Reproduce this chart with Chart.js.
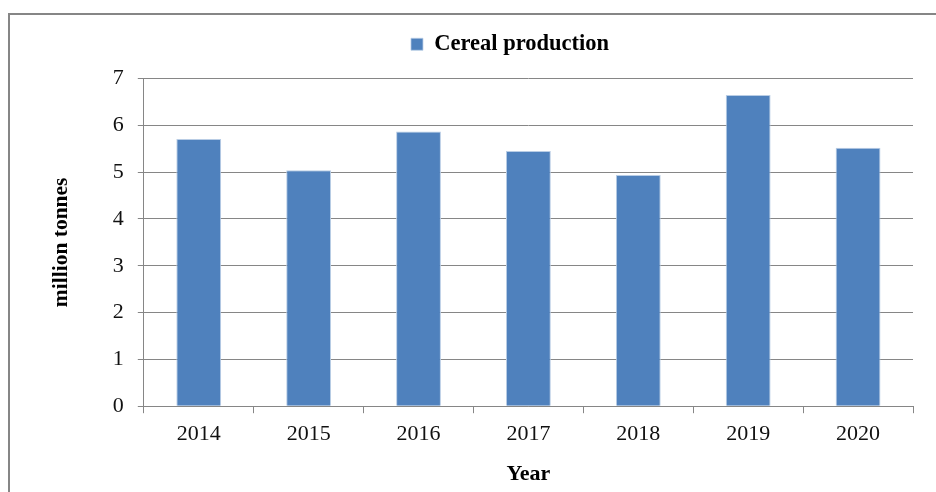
<!DOCTYPE html>
<html>
<head>
<meta charset="utf-8">
<script src="https://cdn.jsdelivr.net/npm/chart.js@4/dist/chart.umd.min.js"></script>
<style>
  html, body { margin: 0; padding: 0; background: #fff; overflow: hidden; }
  #wrap { position: relative; width: 936px; height: 492px; }
  #frame { position: absolute; left: 8px; top: 13px; width: 940px; height: 500px; border: 2px solid #868686; box-sizing: border-box; }
  canvas { position: absolute; left: 0; top: 0; }
</style>
</head>
<body>
<div id="wrap">
  <div id="frame"></div>
  <canvas id="chart" width="936" height="492"></canvas>
</div>
<script>
// Cereal production by year
const years = ['2014', '2015', '2016', '2017', '2018', '2019', '2020'];
const production = [5.71, 5.04, 5.87, 5.45, 4.94, 6.65, 5.52];
const yTicks = [0, 1, 2, 3, 4, 5, 6, 7];

const serif = '"Liberation Serif", "Times New Roman", serif';
const grey = '#868686';

// extra space under the legend, and centre it over the plot rather than the canvas
const legendGap = {
    id: 'legendGap',
    beforeInit(chart) {
        const fit = chart.legend.fit;
        chart.legend.fit = function () {
            fit.bind(chart.legend)();
            this.height += 13;
        };
    },
    afterLayout(chart) {
        chart.legend.left += 29;
        chart.legend.right += 29;
    },
};

new Chart(document.getElementById('chart'), {
    type: 'bar',
    data: {
        labels: years,
        datasets: [{
            label: 'Cereal production',
            data: production,
            backgroundColor: '#4f81bd',
            borderColor: '#b9cde5',
            borderWidth: { left: 1, right: 1, top: 1, bottom: 0 },
            categoryPercentage: 0.8,
            barPercentage: 0.51,
        }],
    },
    plugins: [legendGap],
    options: {
        responsive: false,
        animation: false,
        layout: { padding: { left: 49, right: 23, top: 6, bottom: 4 } },
        plugins: {
            tooltip: { enabled: false },
            legend: {
                labels: {
                    boxWidth: 12,
                    boxHeight: 12,
                    padding: 27,
                    color: '#000',
                    font: { family: serif, size: 22.5, weight: 'bold' },
                },
            },
        },
        scales: {
            x: {
                offset: true,
                grid: { offset: true, drawOnChartArea: false, drawTicks: true, tickLength: 7, color: grey },
                border: { color: grey },
                ticks: { color: '#111', padding: 8, font: { family: serif, size: 22 } },
                title: { display: true, text: 'Year', color: '#000', padding: { top: 6, bottom: 0 }, font: { family: serif, size: 22, weight: 'bold' } },
            },
            y: {
                min: 0,
                max: 7,
                afterBuildTicks: (axis) => { axis.ticks = yTicks.map(v => ({ value: v })); },
                grid: { drawTicks: true, tickLength: 6, color: grey },
                border: { color: grey },
                ticks: { color: '#111', padding: 14, font: { family: serif, size: 22 } },
                title: { display: true, text: 'million tonnes', color: '#000', padding: { top: 0, bottom: 24 }, font: { family: serif, size: 21.5, weight: 'bold' } },
            },
        },
    },
});
</script>
</body>
</html>
